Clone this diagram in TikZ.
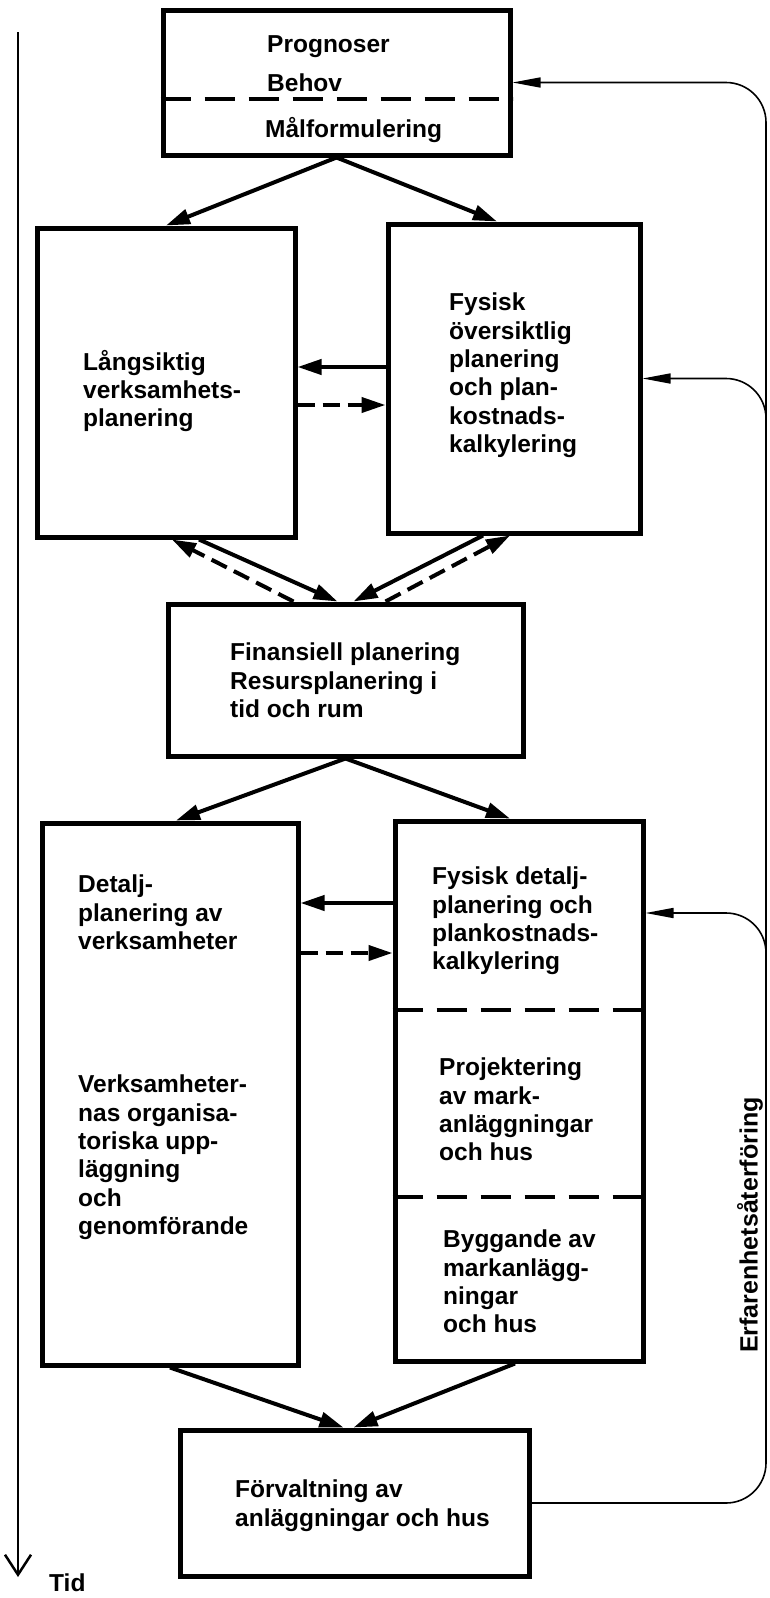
\documentclass[tikz,border=0pt]{standalone}
\usepackage{fontspec}
\setmainfont{Liberation Sans}
\usetikzlibrary{arrows.meta,positioning}

\begin{document}
\begin{tikzpicture}[
    x=1pt, y=-1pt,
    box/.style={rectangle, draw=black, line width=5pt, inner sep=0pt},
    txt/.style={anchor=north west, align=left, inner sep=0pt,
                font=\fontsize{24.5}{28.3}\bfseries},
    label/.style={anchor=west, inner sep=0pt, font=\fontsize{24.5}{28.3}\bfseries},
    arrow/.style={-{Triangle[length=24pt,width=15pt]}, line width=4pt},
    dasharrow/.style={arrow, dash pattern=on 17pt off 8pt},
    divider/.style={line width=3.5pt, dash pattern=on 30pt off 14pt},
    feedback/.style={-{Triangle[length=28pt,width=10pt]}, line width=1.6pt,
                     rounded corners=40pt}
]
    \useasboundingbox (0,0) rectangle (769,1598);

    \node[box, minimum width=347pt, minimum height=145pt] (prog) at (336.5,82.5) {};
    \node[box, minimum width=258pt, minimum height=309pt] (lang) at (166,382.5) {};
    \node[box, minimum width=252pt, minimum height=309pt] (fys) at (514,378.5) {};
    \node[box, minimum width=355pt, minimum height=152pt] (fin) at (345.5,680) {};
    \node[box, minimum width=256pt, minimum height=542pt] (det) at (170,1094) {};
    \node[box, minimum width=248pt, minimum height=540pt] (fysdet) at (519,1091) {};
    \node[box, minimum width=349pt, minimum height=146pt] (forv) at (354.5,1503) {};

    \node[label] (progtxt) at (267,47) {Prognoser};
    \node[label] (behovtxt) at (267,83) {Behov};
    \node[label] (maltxt) at (265,130) {Målformulering};
    \node[txt] (langtxt) at (83,350) {Långsiktig\\verksamhets-\\planering};
    \node[txt] (fystxt) at (449,293) {Fysisk\\översiktlig\\planering\\och plan-\\kostnads-\\kalkylering};
    \node[txt] (fintxt) at (230,643) {Finansiell planering\\Resursplanering i\\tid och rum};
    \node[txt] (dettxt) at (78,875) {Detalj-\\planering av\\verksamheter};
    \node[txt] (orgtxt) at (78,1075) {Verksamheter-\\nas organisa-\\toriska upp-\\läggning\\och\\genomförande};
    \node[txt] (fysdettxt) at (432,867) {Fysisk detalj-\\planering och\\plankostnads-\\kalkylering};
    \node[txt] (projtxt) at (439,1058) {Projektering\\av mark-\\anläggningar\\och hus};
    \node[txt] (byggtxt) at (443,1230) {Byggande av\\markanlägg-\\ningar\\och hus};
    \node[txt] (forvtxt) at (235,1480) {Förvaltning av\\anläggningar och hus};
    \node[label] (tid) at (49,1583) {Tid};
    \node[rotate=90, inner sep=0pt, font=\fontsize{25}{28}\bfseries] (erf) at (750,1225) {Erfarenhetsåterföring};

    \draw[divider] ([yshift=-16.5pt]prog.west) -- ([yshift=-16.5pt]prog.east);
    \draw[divider] ([yshift=81pt]fysdet.west) -- ([yshift=81pt]fysdet.east);
    \draw[divider] ([yshift=-106pt]fysdet.west) -- ([yshift=-106pt]fysdet.east);

    \draw[arrow] (prog.south) -- (lang.north);
    \draw[arrow] (prog.south) -- ([xshift=-17pt]fys.north);
    \draw[arrow] ([yshift=11.5pt]fys.west) -- ([yshift=15.5pt]lang.east);
    \draw[dasharrow] ([yshift=-22.5pt]lang.east) -- ([yshift=-26.5pt]fys.west);
    \draw[arrow] ([xshift=33pt]lang.south) -- ([xshift=-8pt]fin.north);
    \draw[dasharrow] ([xshift=-52pt]fin.north) -- ([xshift=6pt]lang.south);
    \draw[arrow] ([xshift=-31pt]fys.south) -- ([xshift=8pt]fin.north);
    \draw[dasharrow] ([xshift=40pt]fin.north) -- ([xshift=-4pt]fys.south);
    \draw[arrow] (fin.south) -- ([xshift=6pt]det.north);
    \draw[arrow] (fin.south) -- ([xshift=-9pt]fysdet.north);
    \draw[arrow] ([yshift=188pt]fysdet.west) -- ([yshift=191pt]det.east);
    \draw[dasharrow] ([yshift=141pt]det.east) -- ([yshift=138pt]fysdet.west);
    \draw[arrow] (det.south) -- ([xshift=-11pt]forv.north);
    \draw[arrow] ([xshift=-4pt]fysdet.south) -- ([xshift=-1pt]forv.north);

    \coordinate (railtop) at (766,82.5);
    \coordinate (fb1) at (766,440);
    \coordinate (fb2) at (766,975);
    \draw[feedback] (forv.east) -| (railtop) -- (prog.east);
    \draw[feedback] (fb1) |- (fys.east);
    \draw[feedback] (fb2) |- ([yshift=178pt]fysdet.east);

    \coordinate (t0) at (18,32);
    \coordinate (t1) at (18,1577);
    \draw[line width=2.5pt, -{Straight Barb[length=20pt,width=26pt]}] (t0) -- (t1);
\end{tikzpicture}
\end{document}
